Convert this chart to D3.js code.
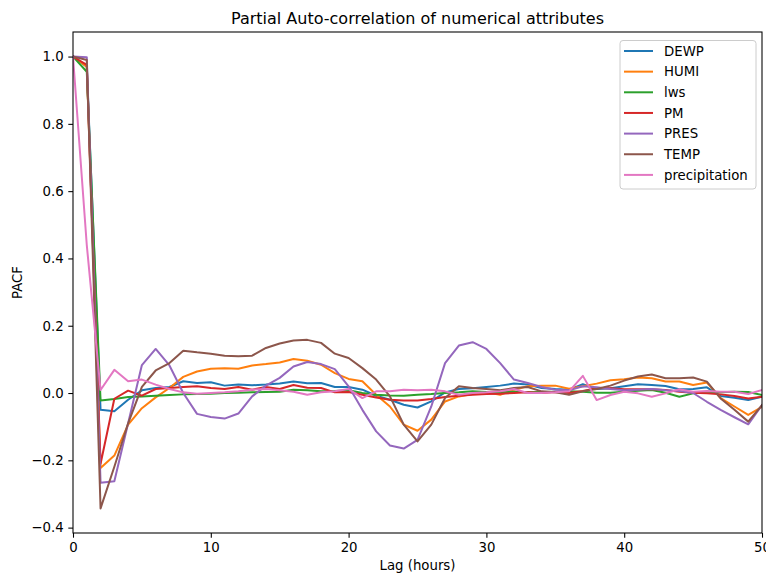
<!DOCTYPE html>
<html>
<head>
<meta charset="utf-8">
<script src="https://cdn.jsdelivr.net/npm/d3@7"></script>
<style>
  html, body { margin: 0; padding: 0; background: #fff; }
  text { font-family: "DejaVu Sans", sans-serif; }
</style>
</head>
<body>
<svg id="chart" width="766" height="573"></svg>
<script>
const lags = d3.range(0, 51);
const seriesNames = ["DEWP", "HUMI", "Iws", "PM", "PRES", "TEMP", "precipitation"];
const legendLabels = ["DEWP", "HUMI", "lws", "PM", "PRES", "TEMP", "precipitation"];
const DEWP = [1.0, 0.97, -0.05, -0.054, -0.02, 0.008, 0.015, 0.018, 0.035, 0.03, 0.032, 0.022, 0.025, 0.023, 0.025, 0.028, 0.034, 0.029, 0.03, 0.018, 0.018, 0.01, -0.008, -0.02, -0.035, -0.043, -0.025, 0.002, 0.012, 0.014, 0.018, 0.022, 0.028, 0.025, 0.015, 0.012, 0.01, 0.026, 0.012, 0.014, 0.02, 0.026, 0.024, 0.021, 0.011, 0.012, 0.017, -0.009, -0.014, -0.021, -0.011];
const HUMI = [1.0, 0.97, -0.223, -0.186, -0.094, -0.045, -0.013, 0.015, 0.048, 0.064, 0.072, 0.074, 0.072, 0.082, 0.086, 0.091, 0.101, 0.096, 0.084, 0.059, 0.042, 0.035, -0.005, -0.04, -0.094, -0.112, -0.079, -0.025, -0.01, -0.003, 0.002, -0.005, 0.01, 0.02, 0.022, 0.022, 0.013, 0.02, 0.028, 0.038, 0.041, 0.046, 0.044, 0.034, 0.034, 0.024, 0.031, -0.015, -0.04, -0.065, -0.041];
const Iws = [1.0, 0.955, -0.022, -0.018, -0.012, -0.01, -0.008, -0.006, -0.004, -0.003, -0.002, 0.0, 0.001, 0.002, 0.003, 0.004, 0.01, 0.008, 0.005, 0.006, 0.008, 0.0, -0.005, -0.007, -0.008, -0.005, -0.003, 0.0, 0.002, 0.005, 0.003, 0.002, 0.004, 0.002, 0.003, 0.004, 0.005, 0.004, 0.001, 0.001, 0.004, 0.007, 0.009, 0.001, -0.011, -0.001, 0.004, 0.002, 0.004, 0.003, -0.006];
const PM = [1.0, 0.975, -0.21, -0.017, 0.007, -0.008, 0.012, 0.015, 0.018, 0.02, 0.015, 0.012, 0.018, 0.01, 0.018, 0.012, 0.024, 0.016, 0.015, 0.002, 0.003, -0.005, -0.013, -0.02, -0.022, -0.022, -0.018, -0.012, -0.008, -0.005, -0.003, -0.002, 0.0, 0.002, 0.0, 0.003, 0.0, 0.006, 0.014, 0.014, 0.011, 0.011, 0.011, 0.009, 0.004, 0.001, -0.001, -0.004, -0.009, -0.016, -0.011];
const PRES = [1.0, 0.998, -0.267, -0.262, -0.09, 0.083, 0.131, 0.082, 0.0, -0.062, -0.071, -0.076, -0.061, -0.01, 0.022, 0.045, 0.079, 0.092, 0.086, 0.071, 0.02, -0.05, -0.114, -0.156, -0.165, -0.139, -0.04, 0.089, 0.141, 0.151, 0.131, 0.089, 0.04, 0.03, 0.018, 0.01, 0.008, 0.02, 0.017, 0.012, 0.008, 0.01, 0.012, 0.008, 0.006, 0.0, -0.026, -0.05, -0.072, -0.093, -0.036];
const TEMP = [1.0, 0.99, -0.343, -0.219, -0.09, 0.018, 0.067, 0.089, 0.126, 0.121, 0.117, 0.111, 0.109, 0.111, 0.134, 0.147, 0.156, 0.158, 0.149, 0.117, 0.104, 0.074, 0.04, -0.01, -0.094, -0.144, -0.094, -0.015, 0.02, 0.015, 0.012, 0.008, 0.015, 0.018, 0.005, 0.002, -0.005, 0.005, 0.012, 0.022, 0.037, 0.049, 0.055, 0.044, 0.044, 0.046, 0.034, -0.016, -0.05, -0.085, -0.036];
const precipitation = [1.0, 0.44, 0.009, 0.069, 0.035, 0.04, 0.025, 0.012, 0.002, -0.002, 0.0, 0.002, 0.005, 0.01, 0.012, 0.008, 0.004, -0.005, 0.002, 0.005, 0.012, -0.015, 0.005, 0.005, 0.01, 0.008, 0.01, 0.005, -0.005, 0.0, 0.002, 0.005, 0.012, 0.0, 0.0, 0.002, 0.005, 0.051, -0.021, -0.006, 0.004, -0.001, -0.011, -0.001, 0.011, 0.004, 0.006, 0.004, 0.004, -0.003, 0.009];
const xTicks = [0, 10, 20, 30, 40, 50];
const yTicks = [-0.4, -0.2, 0.0, 0.2, 0.4, 0.6, 0.8, 1.0];
const colors = ["#1f77b4", "#ff7f0e", "#2ca02c", "#d62728", "#9467bd", "#8c564b", "#e377c2"];

const seriesValues = [DEWP, HUMI, Iws, PM, PRES, TEMP, precipitation];

const svg = d3.select("#chart");
const mLeft = 73, mRight = 762, mTop = 32, mBottom = 533;

const x = d3.scaleLinear().domain([0, 50]).range([mLeft, mRight]);
const y = d3.scaleLinear().domain([-0.416, 1.073]).range([mBottom, mTop]);

svg.append("defs").append("clipPath").attr("id", "clip")
  .append("rect").attr("x", mLeft).attr("y", mTop).attr("width", mRight - mLeft).attr("height", mBottom - mTop);

const line = d3.line().x((d, i) => x(lags[i])).y(d => y(d));

const g = svg.append("g").attr("clip-path", "url(#clip)");
seriesValues.forEach((vals, k) => {
  g.append("path").datum(vals)
    .attr("d", line)
    .attr("fill", "none")
    .attr("stroke", colors[k])
    .attr("stroke-width", 2)
    .attr("stroke-linejoin", "round")
    .attr("stroke-linecap", "square");
});

// frame
svg.append("rect").attr("x", mLeft).attr("y", mTop).attr("width", mRight - mLeft).attr("height", mBottom - mTop)
  .attr("fill", "none").attr("stroke", "#000").attr("stroke-width", 1.07);

const fmt = v => (v < 0 ? "\u2212" : "") + Math.abs(v).toFixed(1);

const xAxis = svg.append("g").attr("transform", `translate(0,${mBottom})`)
  .call(d3.axisBottom(x).tickValues(xTicks).tickSize(4.7).tickPadding(4.7).tickFormat(d3.format("d")));
const yAxis = svg.append("g").attr("transform", `translate(${mLeft},0)`)
  .call(d3.axisLeft(y).tickValues(yTicks).tickSize(4.7).tickPadding(4.7).tickFormat(fmt));
[xAxis, yAxis].forEach(a => {
  a.select(".domain").remove();
  a.selectAll("line").attr("stroke", "#000").attr("stroke-width", 1.07);
  a.selectAll("text").attr("font-family", "DejaVu Sans").attr("font-size", 13.3).attr("fill", "#000");
});

svg.append("text").attr("x", (mLeft + mRight) / 2).attr("y", 24)
  .attr("text-anchor", "middle").attr("font-size", 16).text("Partial Auto-correlation of numerical attributes");
svg.append("text").attr("x", (mLeft + mRight) / 2).attr("y", 570)
  .attr("text-anchor", "middle").attr("font-size", 13.3).text("Lag (hours)");
svg.append("text").attr("transform", `translate(22,${(mTop + mBottom) / 2}) rotate(-90)`)
  .attr("text-anchor", "middle").attr("font-size", 13.3).text("PACF");

// legend
const lg = svg.append("g");
lg.append("rect").attr("x", 620).attr("y", 40.5).attr("width", 136).attr("height", 148.5)
  .attr("rx", 3).attr("fill", "#fff").attr("fill-opacity", 0.8).attr("stroke", "#cccccc").attr("stroke-width", 1);
legendLabels.forEach((name, k) => {
  const yy = 51 + k * 20.65;
  lg.append("line").attr("x1", 624).attr("x2", 653).attr("y1", yy).attr("y2", yy)
    .attr("stroke", colors[k]).attr("stroke-width", 2);
  lg.append("text").attr("x", 664).attr("y", yy).attr("dy", "0.35em")
    .attr("font-size", 13.3).text(name);
});
</script>
</body>
</html>
